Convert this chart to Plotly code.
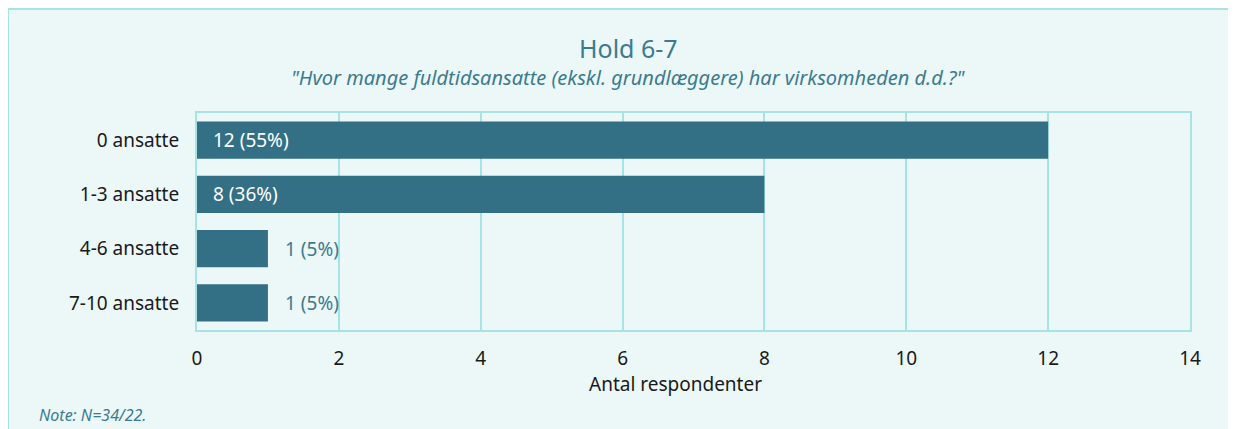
import plotly.graph_objects as go

categories = ["0 ansatte", "1-3 ansatte", "4-6 ansatte", "7-10 ansatte"]
counts = [12, 8, 1, 1]
percents = [55, 36, 5, 5]
x_ticks = [0, 2, 4, 6, 8, 10, 12, 14]

BAR = "#337085"
TEAL_TXT = "#3b7b8d"
GRID = "#a6e3e4"
BG = "#ecf7f8"
FONT = "Noto Sans"

OFF = 8  # page body margin offset
W, H = 1236, 429
L = 197 - OFF
T = 113 - OFF
R = W - (1190 - OFF)
B = H - (330 - OFF)
pw, ph = W - L - R, H - T - B

def px_x(p):
    return (p - OFF - L) / pw

def px_y(p):
    return (H - B - (p - OFF)) / ph

fig = go.Figure()
fig.add_trace(go.Bar(
    y=categories, x=counts, orientation="h",
    marker=dict(color=BAR, line=dict(width=0)),
    width=0.69, hoverinfo="skip",
))

annotations = []
for c, v, p in zip(categories, counts, percents):
    label = f"{v} ({p}%)"
    if v >= 4:
        annotations.append(dict(x=0, y=c, xref="x", yref="y", text=label,
                                showarrow=False, xanchor="left", xshift=14,
                                font=dict(family=FONT, size=19, color="white")))
    else:
        annotations.append(dict(x=v, y=c, xref="x", yref="y", text=label,
                                showarrow=False, xanchor="left", xshift=15,
                                font=dict(family=FONT, size=19, color=TEAL_TXT)))

annotations += [
    dict(x=px_x(628), y=px_y(48), xref="paper", yref="paper", text="Hold 6-7",
         showarrow=False, xanchor="center", yanchor="middle",
         font=dict(family=FONT, size=25, color=TEAL_TXT)),
    dict(x=px_x(628), y=px_y(77), xref="paper", yref="paper",
         text="<i>\"Hvor mange fuldtidsansatte (ekskl. grundlæggere) har virksomheden d.d.?\"</i>",
         showarrow=False, xanchor="center", yanchor="middle",
         font=dict(family=FONT, size=20, color=TEAL_TXT)),
    dict(x=px_x(675), y=px_y(384), xref="paper", yref="paper",
         text="Antal respondenter", showarrow=False, xanchor="center", yanchor="middle",
         font=dict(family=FONT, size=19, color="#1a1a1a")),
    dict(x=px_x(37), y=px_y(415), xref="paper", yref="paper",
         text="<i>Note: N=34/22.</i>", showarrow=False, xanchor="left", yanchor="middle",
         font=dict(family=FONT, size=16, color=TEAL_TXT)),
]

fig.add_shape(type="rect", xref="paper", yref="paper",
              x0=px_x(8), x1=px_x(1229), y0=px_y(470), y1=px_y(9),
              fillcolor=BG, line=dict(color=GRID, width=2), layer="below")

fig.update_layout(
    width=W, height=H,
    margin=dict(l=L, r=R, t=T, b=B),
    paper_bgcolor="white", plot_bgcolor=BG,
    showlegend=False,
    annotations=annotations,
    font=dict(family=FONT, size=19, color="#1a1a1a"),
    xaxis=dict(range=[0, 14], tickvals=x_ticks, showgrid=True, gridcolor=GRID,
               gridwidth=2, zeroline=False, showline=True, linecolor=GRID,
               linewidth=2, mirror=True, ticks="", tickfont=dict(size=19),
               ticklabelstandoff=10),
    yaxis=dict(categoryorder="array", categoryarray=categories[::-1],
               showgrid=False, zeroline=False, showline=True, linecolor=GRID,
               linewidth=2, mirror=True, ticks="", ticklabelstandoff=12,
               tickfont=dict(size=19)),
)

fig.write_html("out.html")
